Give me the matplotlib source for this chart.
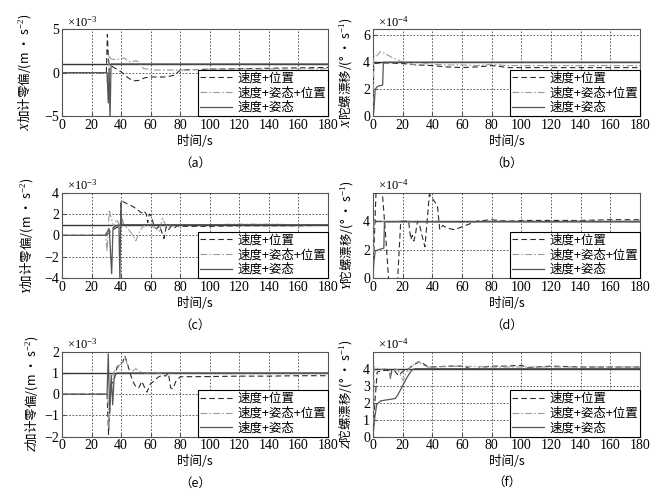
import matplotlib.pyplot as plt

plt.rcParams['font.family'] = ['Liberation Serif', 'Noto Sans CJK SC']
plt.rcParams['mathtext.fontset'] = 'custom'
plt.rcParams['mathtext.rm'] = 'Liberation Serif'
plt.rcParams['mathtext.it'] = 'Liberation Serif:italic'
CJK = 'Noto Sans CJK SC'

labels = ['速度+位置', '速度+姿态+位置', '速度+姿态']
captions = ['（a）', '（b）', '（c）', '（d）', '（e）', '（f）']
ylabels = [r'$X$加计零偏/(m · s$^{-2}$)', r'$X$陀螺漂移/(° · s$^{-1}$)',
           r'$Y$加计零偏/(m · s$^{-2}$)', r'$Y$陀螺漂移/(° · s$^{-1}$)',
           r'$Z$加计零偏/(m · s$^{-2}$)', r'$Z$陀螺漂移/(° · s$^{-1}$)']
scales = [r'$\times10^{-3}$', r'$\times10^{-4}$'] * 3
true_acc = 1.0   # x1e-3 m/s^2
true_gyro = 4.0  # x1e-4 deg/s

# (a) X accelerometer bias
t_a_vp = [0, 30, 30.7, 31.5, 33, 36, 40, 44, 48, 52, 56, 60, 70, 76, 80, 100, 140, 180]
a_vp = [0, 0, 4.4, 1.2, 0.8, 0.5, 0.1, -0.5, -0.95, -0.9, -0.6, -0.5, -0.5, -0.3, 0.3, 0.4, 0.5, 0.6]
t_a_vap = [0, 30, 31, 32, 33, 36, 40, 42, 45, 47, 50, 52, 55, 60, 80, 100, 180]
a_vap = [0, 0, -1.5, 2.0, 1.6, 1.5, 1.6, 1.7, 1.3, 1.2, 1.4, 1.2, 0.5, 0.3, 0.3, 0.4, 0.45]
t_a_va = [0, 30.5, 31.3, 31.9, 32.5, 33.2, 180]
a_va = [0, 0, -3.5, 0.5, -5.5, 1.0, 1.0]

# (b) X gyro drift
t_b_vp = [0, 0.5, 5, 10, 20, 30, 40, 50, 60, 70, 80, 85, 90, 100, 120, 140, 160, 180]
b_vp = [0, 3.9, 3.95, 3.95, 3.9, 3.8, 3.75, 3.65, 3.6, 3.65, 3.75, 3.7, 3.6, 3.6, 3.6, 3.6, 3.6, 3.6]
t_b_vap = [0, 0.5, 2, 5, 8, 12, 20, 25, 30, 35, 40, 50, 60, 70, 80, 90, 100, 120, 140, 160, 180]
b_vap = [0, 4.5, 4.4, 4.8, 4.65, 4.4, 4.0, 3.9, 3.75, 3.9, 3.85, 3.8, 3.8, 3.75, 3.85, 3.75, 3.75, 3.75, 3.75, 3.75, 3.75]
t_b_va = [0, 0.5, 1.5, 3, 6.5, 7, 180]
b_va = [0, 0.3, 2.0, 2.2, 2.3, 4.0, 4.0]

# (c) Y accelerometer bias
t_c_vp = [0, 30, 34, 38, 39.5, 40, 42, 45, 48, 50, 52, 54, 55.5, 57, 58, 59, 60.5, 62, 64, 66,
          67.5, 69, 70.5, 72, 74, 76, 78, 80, 100, 120, 140, 160, 180]
c_vp = [0, 0, 0.5, 0.8, 0.9, 3.3, 3.1, 2.9, 2.7, 2.5, 2.3, 2.1, 2.3, 2.0, 1.2, 2.0, 1.8, 1.0, 0.6, 0.9,
        0.3, -0.3, 0.8, 0.5, 0.9, 0.7, 0.9, 0.85, 0.85, 0.9, 0.9, 0.9, 0.95]
t_c_vap = [0, 29.5, 30.5, 32, 33, 35, 37, 39, 41, 42, 44, 47, 50, 53, 56, 60, 63, 66, 68, 70, 72, 75,
           80, 100, 120, 140, 160, 180]
c_vap = [0, 0, -1.5, 2.4, 1.8, 0.8, 1.5, 0.9, 1.5, 0.9, 0.7, 0.2, -0.5, 0.5, 1.0, 0.9, 0.7, 0.4, 1.6,
         1.0, 0.9, 1.0, 1.0, 1.0, 1.05, 1.05, 1.0, 1.0]
t_c_va = [0, 29, 32, 33.6, 34.5, 37, 38.5, 39.2, 39.8, 40.5, 45, 180]
c_va = [0, 0, 0.6, -3.6, 0.7, 0.9, 1.0, -4.5, 3.0, 1.0, 1.0, 1.0]

# (d) Y gyro drift
t_d_vp = [0, 1, 2.2, 4, 6.3, 8.5, 10.8, 14, 16.5, 18.7, 20, 24, 25.5, 26.5, 27.5, 28.5, 30, 31, 33,
          35, 36.5, 38, 40, 42, 43.5, 45, 47, 50, 55, 60, 65, 70, 80, 90, 100, 120, 140, 160, 180]
d_vp = [0, 3.0, 6.5, 6.5, 6.0, 3.0, -0.5, -0.5, -0.3, 4.0, 4.0, 4.0, 2.7, 3.0, 2.6, 3.0, 4.0, 3.9,
        3.0, 2.2, 4.0, 5.9, 5.6, 5.3, 5.0, 3.4, 3.7, 3.5, 3.4, 3.6, 3.8, 4.0, 4.1, 4.0, 4.05, 4.05,
        4.05, 4.1, 4.1]
t_d_vap = [0, 0.8, 5, 10, 20, 30, 40, 60, 80, 100, 120, 140, 160, 180]
d_vap = [0, 4.0, 4.0, 3.95, 4.0, 3.95, 3.95, 3.9, 4.0, 4.0, 3.95, 4.0, 4.0, 4.0]
t_d_va = [0, 0.5, 1.5, 4, 7.3, 7.7, 180]
d_va = [0, 1.0, 1.9, 2.0, 2.1, 3.95, 3.95]

# (e) Z accelerometer bias
t_e_vp = [0, 30.5, 31.5, 32.5, 33.5, 35, 37, 39, 41, 42.5, 44, 46, 48, 50, 52, 54, 56, 57.5, 60,
          62, 65, 68, 70, 72, 73.5, 75, 77, 80, 100, 120, 140, 160, 180]
e_vp = [0, 0, -1.9, -0.3, 0.5, 0.6, 1.2, 1.45, 1.5, 1.8, 1.5, 1.0, 0.6, 0.35, 0.3, 0.6, 0.3, 0.1,
        0.5, 0.6, 0.8, 0.9, 0.85, 1.0, 0.3, 0.25, 0.6, 0.82, 0.83, 0.85, 0.85, 0.87, 0.87]
t_e_vap = [0, 31, 31.8, 33, 35, 37, 40, 43, 44.5, 46, 48, 50, 53, 56, 60, 70, 80, 100, 180]
e_vap = [0, 0, -1.5, 0.5, 1.0, 1.3, 1.4, 1.7, 1.3, 1.15, 1.1, 1.2, 1.05, 1.0, 0.95, 1.0, 1.0, 1.0, 1.0]
t_e_va = [0, 30.5, 31.3, 32.3, 33.3, 34.3, 35.3, 37, 180]
e_va = [0, 0, 1.9, -0.9, 0.9, -0.5, 0.8, 1.0, 1.0]

# (f) Z gyro drift
t_f_vp = [0, 0.8, 2.8, 5, 8, 11, 11.8, 12.5, 14, 17, 19, 21, 24, 27, 31, 34, 37, 40, 50, 60, 66,
          70, 75, 80, 90, 100, 105, 110, 120, 140, 160, 180]
f_vp = [0, 1.5, 3.8, 3.85, 3.9, 3.9, 3.4, 3.9, 3.95, 3.6, 3.75, 3.9, 4.0, 4.2, 4.4, 4.3, 4.1, 4.1,
        4.15, 4.15, 4.0, 4.0, 4.1, 4.15, 4.15, 4.2, 4.05, 4.1, 4.15, 4.1, 4.1, 4.1]
t_f_vap = [0, 0.8, 2, 4, 8, 11, 12, 13, 15, 17, 19, 20.5, 22, 25, 30, 33, 36, 40, 60, 80, 100,
           120, 140, 160, 180]
f_vap = [0, 4.1, 4.1, 3.95, 4.0, 3.9, 3.5, 3.9, 4.0, 3.9, 3.5, 3.3, 3.7, 4.1, 4.4, 4.3, 4.1, 4.1,
         4.15, 4.1, 4.1, 4.1, 4.1, 4.1, 4.1]
t_f_va = [0, 1, 2.5, 5, 8, 12, 15, 17, 20, 23, 26, 28, 180]
f_va = [0, 1.0, 1.9, 2.1, 2.15, 2.2, 2.25, 2.5, 3.0, 3.5, 3.9, 4.0, 4.0]

panels = [
    ((t_a_vp, a_vp), (t_a_vap, a_vap), (t_a_va, a_va), true_acc, (-5, 5), [-5, 0, 5]),
    ((t_b_vp, b_vp), (t_b_vap, b_vap), (t_b_va, b_va), true_gyro, (0, 6.45), [0, 2, 4, 6]),
    ((t_c_vp, c_vp), (t_c_vap, c_vap), (t_c_va, c_va), true_acc, (-4, 4), [-4, -2, 0, 2, 4]),
    ((t_d_vp, d_vp), (t_d_vap, d_vap), (t_d_va, d_va), true_gyro, (0, 6), [0, 2, 4]),
    ((t_e_vp, e_vp), (t_e_vap, e_vap), (t_e_va, e_va), true_acc, (-2, 2), [-2, -1, 0, 1, 2]),
    ((t_f_vp, f_vp), (t_f_vap, f_vap), (t_f_va, f_va), true_gyro, (0, 5), [0, 1, 2, 3, 4]),
]

# axes boxes in pixels (left, top, right, bottom) on a 663x497 canvas
W, H = 663, 497
boxes = [(62, 29.3, 328, 116), (373, 29.3, 640, 116),
         (62, 192.7, 328, 278), (373, 192.7, 640, 278),
         (62, 351.7, 328, 436.7), (373, 351.7, 640, 436.7)]
ylab_x = [-0.139, -0.104, -0.133, -0.100, -0.114, -0.103]
cap_y = [163, 163, 325, 325, 483, 482]

fig = plt.figure(figsize=(6.63, 4.97), dpi=100)

for i, (vp, vap, va, truth, ylim, yticks) in enumerate(panels):
    l, t, r, b = boxes[i]
    ax = fig.add_axes([l / W, 1 - b / H, (r - l) / W, (b - t) / H])
    ax.axhline(truth, color='#333333', lw=1.0, zorder=2)
    ax.plot(*vp, color='#2a2a2a', lw=0.8, dashes=(5, 3), label=labels[0], zorder=3)
    ax.plot(*vap, color='#9a9a9a', lw=0.8, dashes=(6, 2, 1.5, 2), label=labels[1], zorder=3)
    ax.plot(*va, color='#555555', lw=0.9, label=labels[2], zorder=3)
    ax.set_xlim(0, 180)
    ax.set_ylim(*ylim)
    ax.set_xticks(range(0, 181, 20))
    ax.set_yticks(yticks)
    ax.grid(True, color='#444444', lw=0.6, dashes=(2, 2))
    ax.tick_params(direction='in', length=3, labelsize=10, pad=2, color='#555555')
    for lab in ax.get_xticklabels() + ax.get_yticklabels():
        lab.set_fontfamily('Liberation Serif')
    for s in ax.spines.values():
        s.set_color('#555555')
        s.set_linewidth(0.8)
    ax.set_xlabel('时间/s', fontsize=9, family=CJK, labelpad=2)
    ax.set_ylabel(ylabels[i], fontsize=9, family=CJK, va='center')
    ax.yaxis.set_label_coords(ylab_x[i], 0.5)
    ax.text(0.02, 1.0, scales[i], transform=ax.transAxes, fontsize=9, va='bottom')
    leg = ax.legend(loc='lower right', borderaxespad=0, prop={'family': CJK, 'size': 9},
                    fancybox=False, framealpha=1, edgecolor='black', handlelength=2.6,
                    labelspacing=0.15, borderpad=0.15, handletextpad=0.4)
    leg.get_frame().set_linewidth(0.8)
    fig.text((l + r) / 2 / W, 1 - cap_y[i] / H, captions[i], family=CJK, fontsize=9,
             ha='center', va='center')

fig.savefig('out.png', dpi=100)
